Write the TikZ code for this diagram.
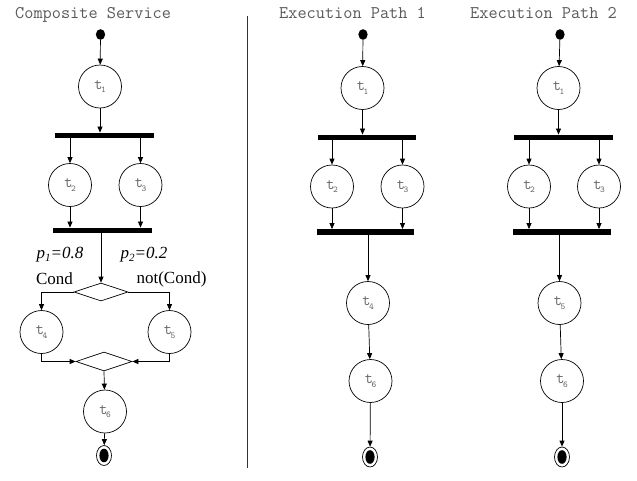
\documentclass[tikz,border=0pt]{standalone}
\usepackage{fontspec}
\setmainfont{Liberation Serif}
\usetikzlibrary{arrows.meta,shapes.geometric}
\newcommand{\tlab}[1]{{\ttfamily\fontsize{16}{16}\selectfont t\kern-1.5pt\raisebox{-3.5pt}{\fontsize{9}{9}\selectfont #1}}}
\tikzset{
  place/.style={circle,draw,line width=0.7pt,minimum size=43pt,inner sep=0pt,text=black!60},
  barnode/.style={rectangle,fill=black,inner sep=0pt,minimum height=5.5pt},
  startdot/.style={ellipse,fill=black,inner sep=0pt,minimum width=9.3pt,minimum height=10.7pt},
  enddot/.style={ellipse,draw,line width=0.7pt,inner sep=0pt,minimum width=15pt,minimum height=20pt,
    path picture={\fill (path picture bounding box.center) ellipse (4.6pt and 6.8pt);}},
  decis/.style={diamond,draw,line width=0.7pt,inner sep=0pt},
  arr/.style={line width=0.7pt,-{Triangle[length=6pt,width=5pt]}},
  ttl/.style={font=\ttfamily\fontsize{17.8}{17.8}\selectfont,text=black!65,anchor=base west,inner sep=0pt},
  lbl/.style={font=\fontsize{17}{17}\selectfont,inner sep=0pt}
}
\begin{document}
\begin{tikzpicture}[x=1pt,y=-1pt]
\useasboundingbox (0,0) rectangle (637,480);
% titles
\node[ttl] (ttlA) at (15,18) {Composite Service};
\node[ttl] (ttlB) at (279,18) {Execution Path 1};
\node[ttl] (ttlC) at (470,18) {Execution Path 2};
\coordinate (sepT) at (247,16);
\coordinate (sepB) at (247,468);
\draw[line width=0.8pt,black!80] (sepT) -- (sepB);

% ---------- Composite service ----------
\node[startdot] (As) at (100.5,34.5) {};
\node[place] (At1) at (100,86.5) {\tlab{1}};
\node[barnode,minimum width=99pt] (Ab1) at (104.5,135.5) {};
\node[place] (At2) at (70,185) {\tlab{2}};
\node[place] (At3) at (140.5,185) {\tlab{3}};
\node[barnode,minimum width=99pt] (Ab2) at (102.5,230.5) {};
\node[decis,minimum width=54pt,minimum height=18pt] (Ad1) at (101,292) {};
\node[place] (At4) at (41.5,332) {\tlab{4}};
\node[place] (At5) at (169.5,332) {\tlab{5}};
\node[decis,minimum width=56pt,minimum height=19pt] (Ad2) at (104,361.5) {};
\node[place] (At6) at (105,411.5) {\tlab{6}};
\node[enddot] (Ae) at (104,455.5) {};
\node[lbl] (Ap1) at (60,255) {\textit{p}\raisebox{-3pt}{\fontsize{11}{11}\selectfont\textit{1}}\textit{=0.8}};
\node[lbl] (Ap2) at (144,255) {\textit{p}\raisebox{-3pt}{\fontsize{11}{11}\selectfont\textit{2}}\textit{=0.2}};
\node[lbl] (Ac1) at (54.5,279) {Cond};
\node[lbl] (Ac2) at (171.5,279) {not(Cond)};

\draw[arr] (As) -- (At1);
\draw[arr] (At1) -- (At1 |- Ab1.north);
\draw[arr] (Ab1.south -| At2) -- (At2);
\draw[arr] (Ab1.south -| At3) -- (At3);
\draw[arr] (At2) -- (At2 |- Ab2.north);
\draw[arr] (At3) -- (At3 |- Ab2.north);
\draw[arr] (Ab2.south -| Ad1.north) -- (Ad1.north);
\draw[arr] (Ad1.west) -| (At4);
\draw[arr] (Ad1.east) -| (At5);
\draw[arr] (At4) |- (Ad2.west);
\draw[arr] (At5) |- (Ad2.east);
\draw[arr] (Ad2.south) -- (At6);
\draw[arr] (At6) -- (Ae);

% ---------- Execution path 1 ----------
\node[startdot] (Bs) at (363,34.5) {};
\node[place] (Bt1) at (362.5,88) {\tlab{1}};
\node[barnode,minimum width=98pt] (Bb1) at (367,137.5) {};
\node[place] (Bt2) at (332,186.5) {\tlab{2}};
\node[place] (Bt3) at (402.5,186.5) {\tlab{3}};
\node[barnode,minimum width=97pt] (Bb2) at (365.5,232) {};
\node[place] (Bt4) at (368,303) {\tlab{4}};
\node[place] (Bt6) at (370.5,381) {\tlab{6}};
\node[enddot] (Be) at (370,457) {};
\draw[arr] (Bs) -- (Bt1);
\draw[arr] (Bt1) -- (Bt1 |- Bb1.north);
\draw[arr] (Bb1.south -| Bt2) -- (Bt2);
\draw[arr] (Bb1.south -| Bt3) -- (Bt3);
\draw[arr] (Bt2) -- (Bt2 |- Bb2.north);
\draw[arr] (Bt3) -- (Bt3 |- Bb2.north);
\draw[arr] (Bb2.south -| Bt4) -- (Bt4);
\draw[arr] (Bt4) -- (Bt6);
\draw[arr] (Bt6) -- (Be);

% ---------- Execution path 2 ----------
\node[startdot] (Cs) at (560,34.5) {};
\node[place] (Ct1) at (558.5,88) {\tlab{1}};
\node[barnode,minimum width=99pt] (Cb1) at (563.5,137.5) {};
\node[place] (Ct2) at (529,186.5) {\tlab{2}};
\node[place] (Ct3) at (599,186.5) {\tlab{3}};
\node[barnode,minimum width=98pt] (Cb2) at (562,232) {};
\node[place] (Ct5) at (559.5,303) {\tlab{5}};
\node[place] (Ct6) at (562,381) {\tlab{6}};
\node[enddot] (Ce) at (562,457) {};
\draw[arr] (Cs) -- (Ct1);
\draw[arr] (Ct1) -- (Ct1 |- Cb1.north);
\draw[arr] (Cb1.south -| Ct2) -- (Ct2);
\draw[arr] (Cb1.south -| Ct3) -- (Ct3);
\draw[arr] (Ct2) -- (Ct2 |- Cb2.north);
\draw[arr] (Ct3) -- (Ct3 |- Cb2.north);
\draw[arr] (Cb2.south -| Ct5) -- (Ct5);
\draw[arr] (Ct5) -- (Ct6);
\draw[arr] (Ct6) -- (Ce);
\end{tikzpicture}
\end{document}
